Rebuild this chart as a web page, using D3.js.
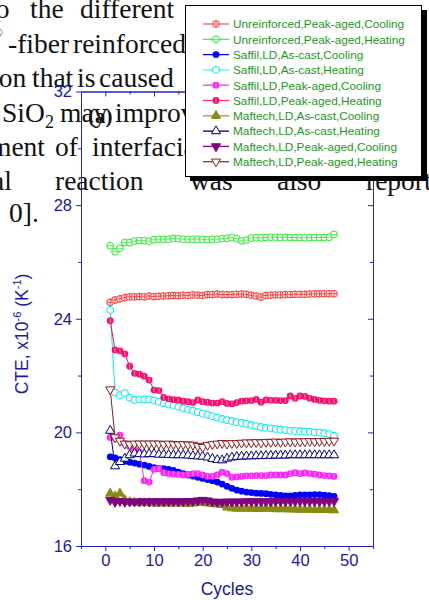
<!DOCTYPE html>
<html>
<head>
<meta charset="utf-8">
<script src="https://cdn.jsdelivr.net/npm/d3@7"></script>
<style>
  body { margin: 0; background: #fff; }
  svg { display: block; }
</style>
</head>
<body>
<div id="chart"></div>
<script>
// cycle numbers (x)
const cycles = [1,2,3,4,5,6,7,8,9,10,11,12,13,14,15,16,17,18,19,20,21,22,23,24,25,26,27,28,29,30,31,32,33,34,35,36,37,38,39,40,41,42,43,44,45,46,47];

// CTE values, x10^-6 K^-1
const unreinfAgedCool = [24.58,24.66,24.70,24.74,24.77,24.77,24.78,24.77,24.80,24.78,24.79,24.80,24.81,24.82,24.81,24.83,24.82,24.84,24.83,24.82,24.85,24.85,24.87,24.85,24.85,24.85,24.86,24.87,24.86,24.83,24.80,24.76,24.82,24.83,24.84,24.84,24.85,24.85,24.86,24.86,24.86,24.87,24.88,24.88,24.88,24.88,24.88];
const unreinfAgedHeat = [26.57,26.36,26.48,26.68,26.68,26.73,26.75,26.75,26.73,26.78,26.80,26.80,26.80,26.83,26.82,26.80,26.80,26.80,26.80,26.80,26.78,26.80,26.80,26.82,26.83,26.86,26.82,26.74,26.77,26.84,26.85,26.85,26.86,26.87,26.87,26.86,26.87,26.86,26.86,26.86,26.85,26.86,26.86,26.86,26.86,26.87,26.97];
const saffilCastCool = [19.14,19.10,19.04,18.98,18.95,18.92,18.88,18.85,18.80,18.76,18.73,18.72,18.70,18.66,18.60,18.55,18.50,18.46,18.42,18.38,18.34,18.30,18.25,18.18,18.10,18.03,17.97,17.93,17.90,17.88,17.86,17.85,17.84,17.82,17.80,17.78,17.76,17.76,17.78,17.80,17.80,17.80,17.81,17.81,17.79,17.77,17.75];
const saffilCastHeat = [24.31,21.40,21.31,21.39,21.22,21.14,21.16,21.16,21.16,21.12,21.08,21.03,20.98,20.94,20.90,20.85,20.80,20.76,20.71,20.66,20.62,20.57,20.52,20.47,20.43,20.40,20.36,20.33,20.30,20.26,20.22,20.19,20.16,20.14,20.12,20.10,20.08,20.06,20.05,20.04,20.03,20.02,20.00,19.99,19.97,19.94,19.88];
const saffilAgedCool = [19.82,19.79,19.90,19.60,19.50,19.40,19.30,18.30,18.25,18.70,18.72,18.58,18.55,18.53,18.52,18.50,18.52,18.55,18.55,18.50,18.45,18.45,18.50,18.60,18.55,18.42,18.43,18.45,18.47,18.47,18.48,18.48,18.48,18.50,18.50,18.50,18.50,18.55,18.58,18.55,18.57,18.55,18.53,18.50,18.48,18.47,18.45];
const saffilAgedHeat = [23.93,22.90,22.87,22.76,22.33,22.08,22.05,21.98,21.84,21.49,21.47,21.23,21.18,21.15,21.14,21.10,21.08,21.05,21.14,21.08,21.06,21.03,21.03,21.08,21.02,21.00,21.05,21.10,21.11,21.12,21.16,21.06,21.14,21.13,21.13,21.12,21.12,21.28,21.20,21.28,21.27,21.20,21.16,21.13,21.11,21.10,21.10];
const maftechCastCool = [17.85,17.75,17.85,17.62,17.55,17.53,17.52,17.51,17.52,17.50,17.50,17.51,17.50,17.50,17.51,17.50,17.49,17.50,17.52,17.52,17.50,17.48,17.47,17.45,17.36,17.33,17.32,17.32,17.32,17.32,17.31,17.31,17.32,17.31,17.30,17.30,17.30,17.29,17.29,17.28,17.28,17.28,17.27,17.27,17.27,17.27,17.26];
const maftechCastHeat = [20.06,18.81,18.96,19.08,19.20,19.26,19.24,19.23,19.24,19.24,19.22,19.22,19.21,19.20,19.20,19.20,19.19,19.17,19.16,19.15,19.12,19.07,19.03,19.02,19.08,19.12,19.14,19.15,19.16,19.16,19.17,19.17,19.18,19.18,19.19,19.19,19.19,19.20,19.20,19.20,19.20,19.20,19.20,19.20,19.20,19.20,19.20];
const maftechAgedCool = [17.62,17.55,17.58,17.55,17.56,17.56,17.56,17.57,17.56,17.57,17.57,17.56,17.57,17.57,17.56,17.57,17.58,17.58,17.60,17.62,17.60,17.56,17.55,17.55,17.56,17.56,17.56,17.56,17.57,17.57,17.57,17.57,17.57,17.57,17.58,17.58,17.58,17.58,17.58,17.58,17.58,17.58,17.58,17.58,17.58,17.58,17.58];
const maftechAgedHeat = [21.51,19.82,19.70,19.60,19.58,19.60,19.60,19.60,19.60,19.60,19.60,19.58,19.60,19.58,19.57,19.58,19.57,19.56,19.52,19.48,19.55,19.58,19.60,19.62,19.60,19.62,19.62,19.63,19.64,19.64,19.65,19.64,19.66,19.66,19.67,19.66,19.67,19.68,19.67,19.68,19.68,19.69,19.68,19.69,19.69,19.70,19.70];

const seriesNames = [
  "Unreinforced,Peak-aged,Cooling",
  "Unreinforced,Peak-aged,Heating",
  "Saffil,LD,As-cast,Cooling",
  "Saffil,LD,As-cast,Heating",
  "Saffil,LD,Peak-aged,Cooling",
  "Saffil,LD,Peak-aged,Heating",
  "Maftech,LD,As-cast,Cooling",
  "Maftech,LD,As-cast,Heating",
  "Maftech,LD,Peak-aged,Cooling",
  "Maftech,LD,Peak-aged,Heating"
];
const seriesValues = [unreinfAgedCool, unreinfAgedHeat, saffilCastCool, saffilCastHeat,
  saffilAgedCool, saffilAgedHeat, maftechCastCool, maftechCastHeat, maftechAgedCool, maftechAgedHeat];

const xTicks = [0, 10, 20, 30, 40, 50];
const xMinor = [-5, 5, 15, 25, 35, 45, 55];
const yTicks = [16, 20, 24, 28, 32];
const yMinor = [18, 22, 26, 30];

// look of each series: colour, legend line colour, marker kind
const styles = [
  { color: "#ff3333", line: "#ff5a5a", marker: "crossCircle" },
  { color: "#22ee22", line: "#33ff33", marker: "barCircle" },
  { color: "#0000ff", line: "#0000ff", marker: "dot" },
  { color: "#00eeee", line: "#33ffff", marker: "ring" },
  { color: "#ff22ff", line: "#ff33ff", marker: "halfDot" },
  { color: "#ff0a6e", line: "#ff3377", marker: "halfDot" },
  { color: "#8a8a14", line: "#999933", marker: "triUp" },
  { color: "#000080", line: "#000080", marker: "triUpOpen" },
  { color: "#800080", line: "#800080", marker: "triDown" },
  { color: "#8b1a1a", line: "#993333", marker: "triDownOpen" }
];

const W = 429, H = 600;
const axisColor = "#2424c0";
const labelColor = "#1a1a9a";

const svg = d3.select("#chart").append("svg")
  .attr("width", W)
  .attr("height", H);

// page text of the paper behind the figure
const page = svg.append("g")
  .style("font-family", "'Liberation Serif', 'Times New Roman', serif")
  .style("font-size", "27.5px")
  .attr("fill", "#111");

const words = [
  ["to", -12, 18], ["the", 30, 18], ["different", 80, 18],
  ["-fiber", 8, 53], ["reinforced", 73, 53],
  ["ion", -9, 87], ["that", 32, 87], ["is", 77, 87], ["caused", 99, 87],
  ["SiO", 2, 122], ["may", 60, 122], ["improve", 115, 122],
  ["ment", -10, 156], ["of", 55, 156], ["interfacial", 92, 156],
  ["al", -8, 190], ["reaction", 55, 190], ["was", 190, 190], ["also", 277, 190], ["reported", 366, 190],
  ["0].", 9, 222]
];
page.selectAll("text.w")
  .data(words)
  .enter()
  .append("text")
  .attr("class", "w")
  .attr("x", d => d[1])
  .attr("y", d => d[2])
  .text(d => d[0]);
page.append("text").attr("x", 45).attr("y", 128).style("font-size", "18px").text("2");
page.append("text").attr("x", -7).attr("y", 37).style("font-size", "13px").text("\u00ae");

const x = d3.scaleLinear().domain([-5, 55]).range([81, 373]);
const y = d3.scaleLinear().domain([16, 32]).range([546, 91.5]);

function styleAxis(g, labels) {
  g.selectAll("path.domain").attr("stroke", axisColor).attr("stroke-width", 1);
  g.selectAll(".tick line").attr("stroke", axisColor);
  g.selectAll(".tick text")
    .attr("fill", labelColor)
    .style("font-family", "'Liberation Sans', Arial, sans-serif")
    .style("font-size", "16.5px");
  if (!labels) g.selectAll(".tick text").remove();
}

// bottom
svg.append("g").attr("transform", "translate(0,546)")
  .call(d3.axisBottom(x).tickValues(xTicks).tickSize(5).tickPadding(3).tickSizeOuter(0).tickFormat(d3.format("d")))
  .call(g => styleAxis(g, true));
svg.append("g").attr("transform", "translate(0,546)")
  .call(d3.axisBottom(x).tickValues(xMinor).tickSize(3).tickSizeOuter(0).tickFormat(""))
  .call(g => styleAxis(g, false));
// top
svg.append("g").attr("transform", "translate(0,91.5)")
  .call(d3.axisTop(x).tickValues(xTicks).tickSize(-5).tickSizeOuter(0).tickFormat(""))
  .call(g => styleAxis(g, false));
svg.append("g").attr("transform", "translate(0,91.5)")
  .call(d3.axisTop(x).tickValues(xMinor).tickSize(-3).tickSizeOuter(0).tickFormat(""))
  .call(g => styleAxis(g, false));
// left
svg.append("g").attr("transform", "translate(81,0)")
  .call(d3.axisLeft(y).tickValues(yTicks).tickSize(5).tickPadding(4).tickSizeOuter(0).tickFormat(d3.format("d")))
  .call(g => styleAxis(g, true));
svg.append("g").attr("transform", "translate(81,0)")
  .call(d3.axisLeft(y).tickValues(yMinor).tickSize(3).tickSizeOuter(0).tickFormat(""))
  .call(g => styleAxis(g, false));
// right
svg.append("g").attr("transform", "translate(373,0)")
  .call(d3.axisRight(y).tickValues(yTicks).tickSize(-5).tickSizeOuter(0).tickFormat(""))
  .call(g => styleAxis(g, false));
svg.append("g").attr("transform", "translate(373,0)")
  .call(d3.axisRight(y).tickValues(yMinor).tickSize(-3).tickSizeOuter(0).tickFormat(""))
  .call(g => styleAxis(g, false));

// axis titles
svg.append("text")
  .attr("x", 227).attr("y", 595)
  .attr("text-anchor", "middle")
  .attr("fill", labelColor)
  .style("font-family", "'Liberation Sans', Arial, sans-serif")
  .style("font-size", "17.5px")
  .text("Cycles");

const yl = svg.append("text")
  .attr("transform", "translate(28,334) rotate(-90)")
  .attr("text-anchor", "middle")
  .attr("fill", labelColor)
  .style("font-family", "'Liberation Sans', Arial, sans-serif")
  .style("font-size", "17.5px");
yl.append("tspan").text("CTE, x10");
yl.append("tspan").attr("dy", -7).style("font-size", "11px").text("-6");
yl.append("tspan").attr("dy", 7).text(" (K");
yl.append("tspan").attr("dy", -7).style("font-size", "11px").text("-1");
yl.append("tspan").attr("dy", 7).text(")");

// markers
function drawMarker(g, kind, color) {
  const r = 3.4;
  if (kind === "crossCircle") {
    g.append("circle").attr("r", r).attr("fill", "#fff").attr("stroke", color).attr("stroke-width", 1);
    g.append("path").attr("d", `M${-r},0H${r}M0,${-r}V${r}`).attr("stroke", color).attr("stroke-width", 0.9);
  } else if (kind === "barCircle") {
    g.append("circle").attr("r", r).attr("fill", "#fff").attr("stroke", color).attr("stroke-width", 1);
    g.append("path").attr("d", `M${-r},0H${r}`).attr("stroke", color).attr("stroke-width", 0.8);
  } else if (kind === "dot") {
    g.append("circle").attr("r", r).attr("fill", color);
  } else if (kind === "ring") {
    g.append("circle").attr("r", r).attr("fill", "#fff").attr("stroke", color).attr("stroke-width", 1.1);
  } else if (kind === "halfDot") {
    g.append("circle").attr("r", r).attr("fill", color);
    g.append("path").attr("d", `M0,${-r + 1}V${r - 1}`).attr("stroke", "#fff").attr("stroke-opacity", 0.55).attr("stroke-width", 1);
  } else {
    const sym = d3.symbol().type(d3.symbolTriangle).size(36)();
    const down = kind.startsWith("triDown");
    const open = kind.endsWith("Open");
    g.append("path").attr("d", sym)
      .attr("transform", down ? "rotate(180)" : null)
      .attr("fill", open ? "#fff" : color)
      .attr("stroke", color)
      .attr("stroke-width", 1);
  }
}

const line = d3.line()
  .x(d => x(d[0]))
  .y(d => y(d[1]));

seriesValues.forEach((vals, i) => {
  const pts = cycles.map((c, j) => [c, vals[j]]);
  const st = styles[i];
  svg.append("path")
    .attr("d", line(pts))
    .attr("fill", "none")
    .attr("stroke", st.color)
    .attr("stroke-width", 1);
  svg.append("g").selectAll("g")
    .data(pts)
    .enter()
    .append("g")
    .attr("transform", d => `translate(${x(d[0])},${y(d[1])})`)
    .each(function () { drawMarker(d3.select(this), st.marker, st.color); });
});

// panel letter
svg.append("text")
  .attr("x", 88).attr("y", 123)
  .style("font-family", "'Liberation Serif', 'Times New Roman', serif")
  .style("font-size", "21px")
  .style("font-weight", "bold")
  .attr("fill", "#111")
  .text("(a)");

// legend
const lg = svg.append("g");
lg.append("rect").attr("x", 190).attr("y", 10).attr("width", 237).attr("height", 171).attr("fill", "#000");
lg.append("rect").attr("x", 185.5).attr("y", 5.5).attr("width", 236).attr("height", 171)
  .attr("fill", "#fff").attr("stroke", "#000").attr("stroke-width", 1);

const rows = lg.selectAll("g.row")
  .data(seriesNames)
  .enter()
  .append("g")
  .attr("class", "row")
  .attr("transform", (d, i) => `translate(0,${24 + i * 15.3})`);
rows.append("path")
  .attr("d", "M203,0H229")
  .attr("stroke", (d, i) => styles[i].line)
  .attr("stroke-width", 1.3);
rows.append("g")
  .attr("transform", "translate(216,0)")
  .each(function (d, i) { drawMarker(d3.select(this), styles[i].marker, styles[i].color); });
rows.append("text")
  .attr("x", 233).attr("y", 4.3)
  .attr("fill", "#1e961e")
  .style("font-family", "'Liberation Sans', Arial, sans-serif")
  .style("font-size", "11.8px")
  .text(d => d);
</script>
</body>
</html>
